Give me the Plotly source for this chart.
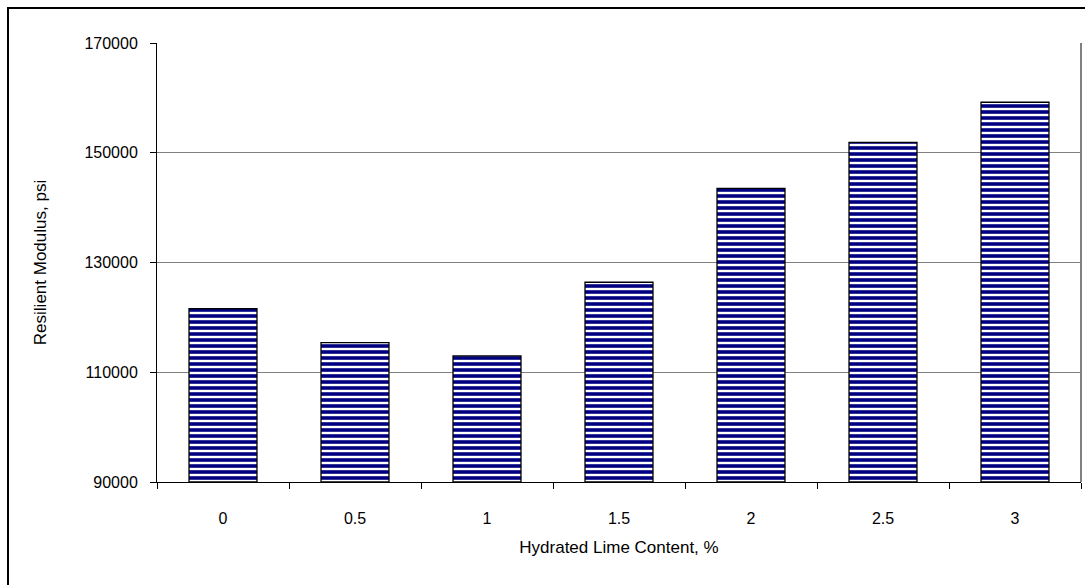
import plotly.graph_objects as go

categories = ["0", "0.5", "1", "1.5", "2", "2.5", "3"]
modulus = [121600, 115400, 113000, 126400, 143500, 151900, 159200]
y_ticks = [90000, 110000, 130000, 150000, 170000]
y_min, y_max = 90000, 170000

fig = go.Figure()
fig.add_trace(go.Bar(
    x=categories, y=[v - y_min for v in modulus], base=y_min,
    marker=dict(
        color="white",
        line=dict(color="black", width=1.3),
        pattern=dict(shape="-", fgcolor="#000080", bgcolor="white", size=6,
                     solidity=0.6, fgopacity=1),
    ),
))

W, H = 1085, 585
L, R, T, B = 157, 1081, 43, 482
FONT = "Liberation Sans, Arial, sans-serif"
tick_font = dict(family=FONT, size=16, color="black")
fig.update_layout(
    width=W, height=H,
    margin=dict(l=L, r=W - R, t=T, b=H - B, pad=0),
    paper_bgcolor="white", plot_bgcolor="white",
    font=dict(family=FONT, size=16, color="black"),
    bargap=0.485,
    showlegend=False,
    xaxis=dict(
        type="category", showgrid=False, showline=True, linecolor="black", linewidth=1,
        ticks="outside", tickson="boundaries", ticklen=6, tickcolor="black",
        tickfont=tick_font, ticklabelstandoff=22,
        title=dict(text="Hydrated Lime Content, %", standoff=14,
                   font=dict(family=FONT, size=17)),
    ),
    yaxis=dict(
        range=[y_min, y_max], tickvals=y_ticks, ticktext=[str(v) for v in y_ticks],
        showgrid=True, gridcolor="#808080", gridwidth=1,
        showline=True, linecolor="black", linewidth=1,
        ticks="outside", ticklen=6, tickcolor="black",
        tickfont=tick_font, ticklabelstandoff=9,
        title=dict(text="Resilient Modulus, psi", standoff=33,
                   font=dict(family=FONT, size=17)),
        zeroline=False,
    ),
)
pw, ph = R - L, B - T
fig.add_shape(type="line", xref="paper", yref="paper", x0=1, x1=1, y0=0, y1=1,
              line=dict(color="#808080", width=2))
fig.add_shape(type="rect", xref="paper", yref="paper",
              x0=(8 - L) / pw, x1=(W + 5 - L) / pw,
              y0=-(H + 5 - B) / ph, y1=1 + (T - 8) / ph,
              line=dict(color="black", width=2), layer="below")
fig.write_html("out.html")
